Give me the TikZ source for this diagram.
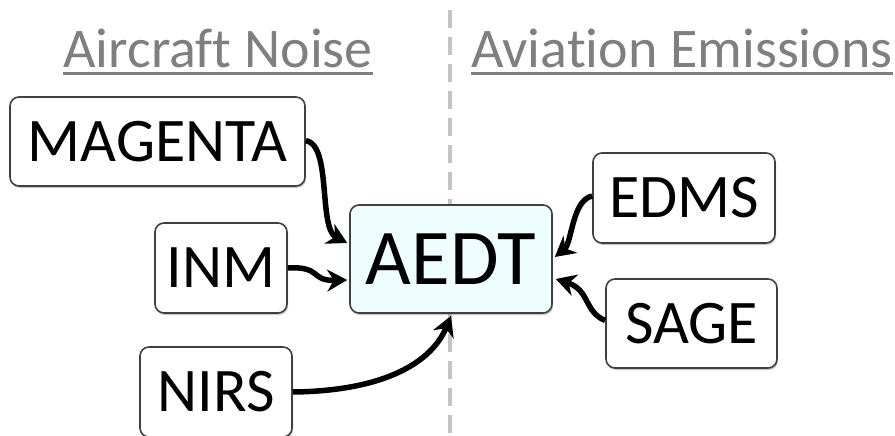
\documentclass[tikz,border=0pt]{standalone}
\usepackage{fontspec}
\setmainfont{Carlito}[Ligatures=NoCommon]
\usetikzlibrary{arrows.meta,shadows}
\definecolor{headgray}{HTML}{7F7F7F}
\definecolor{dashgray}{HTML}{C4C4C4}
\definecolor{boxline}{HTML}{404040}
\definecolor{aedtfill}{HTML}{EEFEFE}
\tikzset{
  model/.style={draw=boxline, line width=1.6pt, rounded corners=9pt, fill=white,
    inner sep=0pt, font=\fontsize{62}{70}\selectfont,
    drop shadow={shadow xshift=1pt, shadow yshift=-2pt, opacity=0.35, fill=black!60}},
  heading/.style={inner sep=0pt, anchor=base, text=headgray, font=\fontsize{56}{64}\selectfont},
  underl/.style={draw=headgray, line width=3pt},
  link/.style={line width=5.5pt, -{Stealth[length=20pt,width=22pt]}},
}
\begin{document}
\begin{tikzpicture}[x=1pt,y=-1pt]
\useasboundingbox (0,0) rectangle (895,436);
\coordinate (dtop) at (450,10);
\coordinate (dbot) at (450,440);
\draw[dashgray, line width=4pt, dash pattern=on 18pt off 9pt] (dtop) -- (dbot);
\node[heading] (h1) at (218,68) {Aircraft Noise};
\node[heading] (h2) at (682,68) {Aviation Emissions};
\draw[underl] ([yshift=-5pt]h1.south west) -- ([yshift=-5pt]h1.south east);
\draw[underl] ([yshift=-5pt]h2.south west) -- ([yshift=-5pt]h2.south east);
\node[model, minimum width=295pt, minimum height=89pt] (mag) at (157.5,141.5) {MAGENTA};
\node[model, minimum width=132pt, minimum height=90pt] (inm) at (221,268) {INM};
\node[model, minimum width=152pt, minimum height=90pt] (nirs) at (216,392) {NIRS};
\node[model, fill=aedtfill, minimum width=202pt, minimum height=108pt, font=\fontsize{79}{86}\selectfont] (aedt) at (451,259) {AEDT};
\node[model, minimum width=182pt, minimum height=90pt] (edms) at (684,198) {EDMS};
\node[model, minimum width=171pt, minimum height=89pt] (sage) at (691.5,323.5) {SAGE};
\draw[link] ([yshift=1pt]mag.east) .. controls (332,145) and (318,228) .. ([yshift=16pt,xshift=-2pt]aedt.west);
\draw[link] (inm.east) .. controls (322,266) and (310,281) .. ([yshift=-21pt,xshift=-2pt]aedt.west);
\draw[link] (nirs.east) .. controls (385,391) and (432,362) .. ([yshift=-2pt]aedt.south);
\draw[link] ([yshift=2pt]edms.west) .. controls (572,200) and (572,243) .. ([yshift=2pt,xshift=2pt]aedt.east);
\draw[link] ([yshift=3pt]sage.west) .. controls (584,312) and (590,290) .. ([yshift=-20pt,xshift=3pt]aedt.east);
\end{tikzpicture}
\end{document}
